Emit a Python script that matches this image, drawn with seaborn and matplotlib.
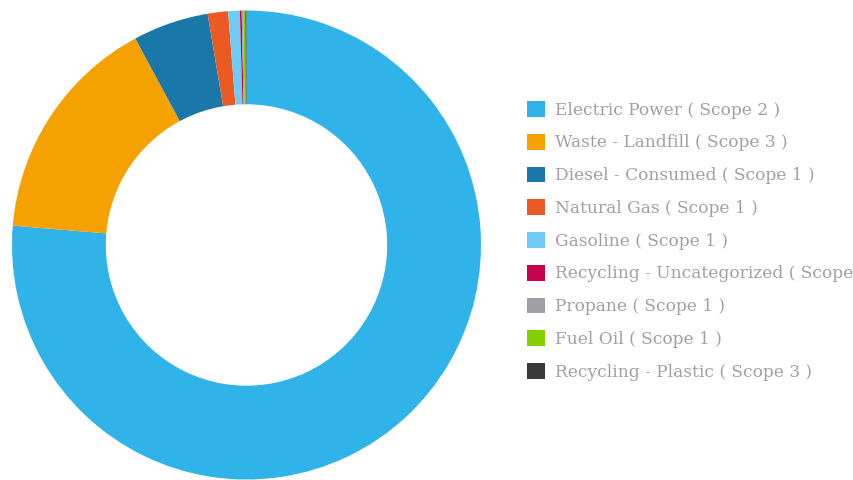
import matplotlib.pyplot as plt
import seaborn as sns

# emission sources, share of total (percent)
sources = ['Electric Power ( Scope 2 )', 'Waste - Landfill ( Scope 3 )',
           'Diesel - Consumed ( Scope 1 )', 'Natural Gas ( Scope 1 )',
           'Gasoline ( Scope 1 )', 'Recycling - Uncategorized ( Scope 3 )',
           'Propane ( Scope 1 )', 'Fuel Oil ( Scope 1 )',
           'Recycling - Plastic ( Scope 3 )']
share = [76.2, 15.8, 5.2, 1.4, 0.8, 0.12, 0.1, 0.15, 0.08]
colors = ['#2fb3e8', '#f5a100', '#1a77aa', '#ec5a24', '#6ecbf5',
          '#c8004f', '#9d9fa2', '#84d100', '#3a3a3a']

sns.set_theme(style='white')
plt.rcParams['font.family'] = ['DejaVu Serif']

fig = plt.figure(figsize=(8.54, 4.8), dpi=100)
ax = fig.add_axes([12 / 854, 0.5 / 480, 469 / 854, 469 / 480])

wedges, _ = ax.pie(share, colors=colors, startangle=90, counterclock=False,
                   radius=1, wedgeprops=dict(width=0.4, linewidth=0))
ax.set_xlim(-1, 1)
ax.set_ylim(-1, 1)
ax.set_aspect('equal')

# long label runs off the right edge, as in the original
leg = fig.legend(wedges, sources, loc='upper left',
                 bbox_to_anchor=(527 / 854, 1 - 101 / 480),
                 frameon=False, fontsize=12.25, handlelength=1.05, handleheight=1.05,
                 handletextpad=0.6, labelspacing=0.885, borderaxespad=0,
                 borderpad=0)
for t in leg.get_texts():
    t.set_color('#a0a0a0')

fig.savefig('out.png', dpi=100)
